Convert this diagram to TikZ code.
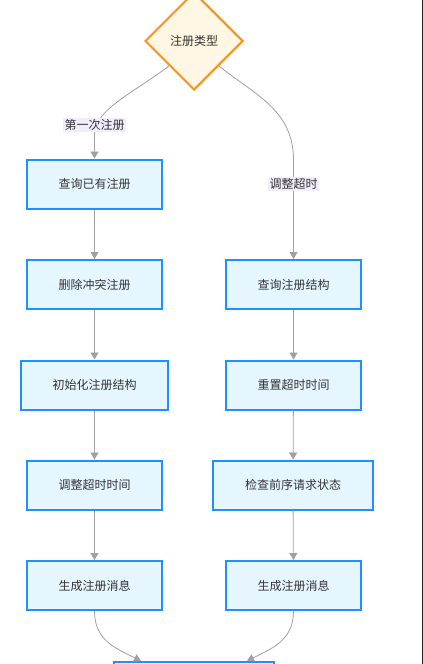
\documentclass[tikz,border=0pt]{standalone}
\usepackage{fontspec}
\setmainfont{Noto Sans CJK SC}
\usetikzlibrary{shapes.geometric,arrows.meta}
\definecolor{boxfill}{HTML}{E6F6FF}
\definecolor{boxline}{HTML}{1E90FF}
\definecolor{diafill}{HTML}{FFF6E3}
\definecolor{dialine}{HTML}{F7931E}
\definecolor{edgecol}{HTML}{A0A0A0}
\definecolor{lblfill}{HTML}{F2EDFC}
\definecolor{txtcol}{HTML}{333333}
\tikzset{
  stepbox/.style={draw=boxline, fill=boxfill, line width=2pt, minimum height=49pt, inner sep=0pt, text=txtcol, font=\fontsize{12pt}{14pt}\selectfont},
  choice/.style={diamond, draw=dialine, fill=diafill, line width=2pt, minimum width=98pt, minimum height=98pt, inner sep=0pt, aspect=1, text=txtcol, font=\fontsize{12pt}{14pt}\selectfont},
  flow/.style={draw=edgecol, line width=0.8pt, -{Triangle[width=8pt,length=7pt]}},
  lbl/.style={fill=lblfill, inner sep=1.5pt, text=txtcol, font=\fontsize{12pt}{14pt}\selectfont}
}
\begin{document}
\begin{tikzpicture}[x=1pt,y=-1pt]
\useasboundingbox (0,0) rectangle (423,664);
\clip (0,0) rectangle (423,664);
\fill[white] (0,0) rectangle (423,664);
\fill[black!85] (422,0) rectangle (423,664);
\node[choice] (dia) at (194,41) {注册类型};
% left column
\node[stepbox, minimum width=135pt] (l1) at (94.5,184) {查询已有注册};
\node[stepbox, minimum width=135pt] (l2) at (94.5,284.5) {删除冲突注册};
\node[stepbox, minimum width=147pt] (l3) at (94.5,385) {初始化注册结构};
\node[stepbox, minimum width=135pt] (l4) at (94.5,485) {调整超时时间};
\node[stepbox, minimum width=135pt] (l5) at (94.5,585.5) {生成注册消息};
% right column
\node[stepbox, minimum width=135pt] (r1) at (293.5,284.5) {查询注册结构};
\node[stepbox, minimum width=135pt] (r2) at (293.5,385) {重置超时时间};
\node[stepbox, minimum width=160pt] (r3) at (293,485) {检查前序请求状态};
\node[stepbox, minimum width=135pt] (r4) at (293.5,585.5) {生成注册消息};
% bottom
\node[stepbox, minimum width=160pt, anchor=north] (fin) at (194,661) {};
% edges
\coordinate (ltop) at (94.5,159);
\coordinate (rtop) at (293.5,259);
\draw[flow] (dia.south west) .. controls (130,95) and (94.5,110) .. (94.5,135) -- (l1.north);
\node[lbl] at (94.5,125) {第一次注册};
\draw[flow] (dia.south east) .. controls (255,95) and (293.5,110) .. (293.5,160) -- (r1.north);
\node[lbl] at (293.5,184) {调整超时};
\draw[flow] (l1) -- (l2);
\draw[flow] (l2) -- (l3);
\draw[flow] (l3) -- (l4);
\draw[flow] (l4) -- (l5);
\draw[flow] (r1) -- (r2);
\draw[flow] (r2) -- (r3);
\draw[flow] (r3) -- (r4);
\coordinate (fl) at (141,661);
\coordinate (fr) at (247,661);
\draw[flow] (l5.south) .. controls (94.5,640) and (115,648) .. (fl);
\draw[flow] (r4.south) .. controls (293.5,640) and (273,648) .. (fr);
\end{tikzpicture}
\end{document}
